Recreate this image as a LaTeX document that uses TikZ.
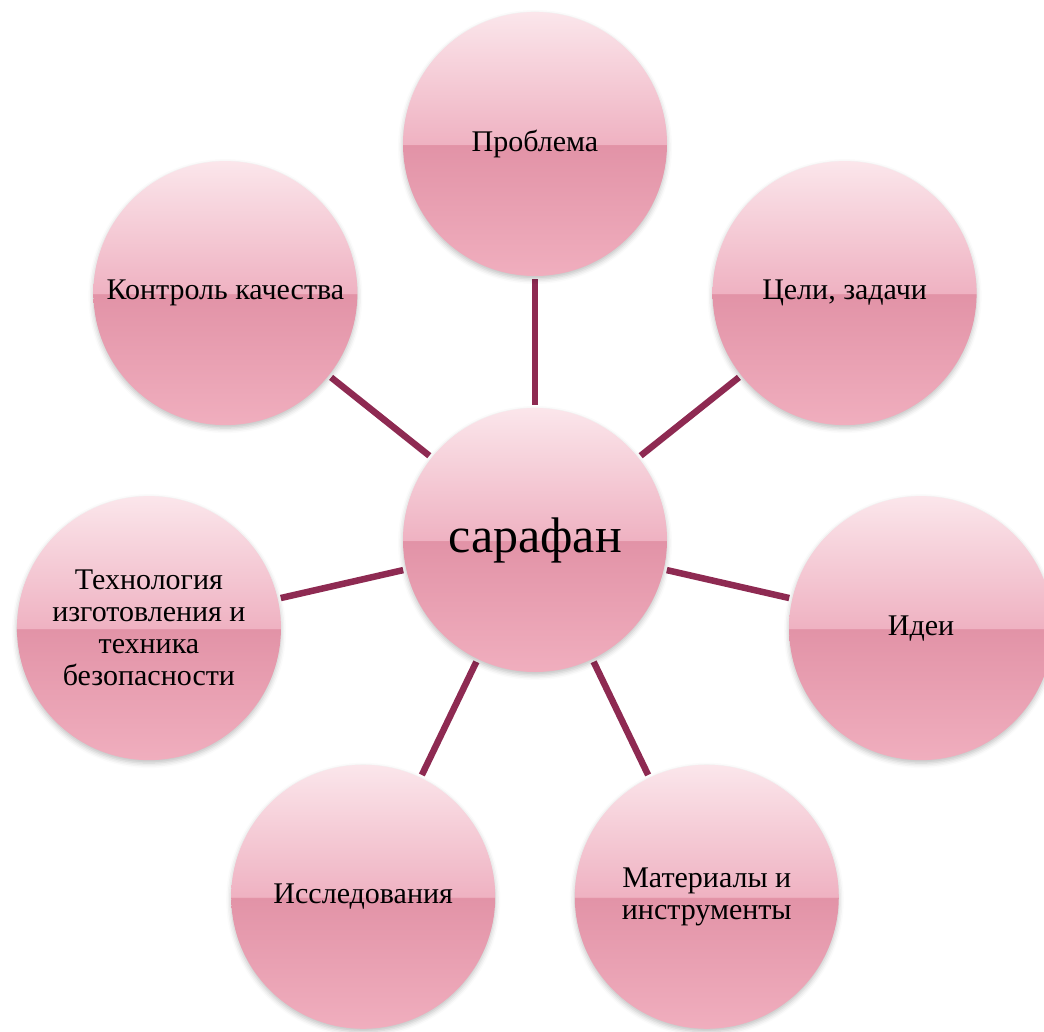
\documentclass[tikz,border=0pt]{standalone}
\usepackage{fontspec}
\setmainfont{Liberation Serif}
\usetikzlibrary{shadows.blur,backgrounds}

\definecolor{petaltop}{HTML}{FBE6EB}
\definecolor{petalup}{HTML}{EFB2C2}
\definecolor{petalmid}{HTML}{E293A7}
\definecolor{petalbot}{HTML}{F0AEBE}
\definecolor{linkred}{HTML}{8E2A52}
\pgfdeclareverticalshading{petal}{100bp}{color(0bp)=(petalbot); color(25bp)=(petalbot); color(49.8bp)=(petalmid); color(50bp)=(petalup); color(75bp)=(petaltop); color(100bp)=(petaltop)}

\begin{document}
\begin{tikzpicture}[x=1pt, y=1pt,
    bubble/.style={circle, minimum size=264pt, inner sep=0pt, shading=petal, align=center,
        font=\fontsize{30}{32}\selectfont,
        blur shadow={shadow xshift=0pt, shadow yshift=-3pt, shadow blur radius=5pt, shadow opacity=25}},
    link/.style={line width=6.5pt, draw=linkred, shorten <=3pt, shorten >=3pt}]
    \useasboundingbox (-535,-491) rectangle (509,540);

    % Centre
    \node[bubble, font=\fontsize{50}{56}\selectfont] (sarafan) at (0,0) {сарафан};

    % Ring of topics
    \node[bubble] (problem) at (90:396) {Проблема};
    \node[bubble] (goals) at (38.57:396) {Цели, задачи};
    \node[bubble] (ideas) at (-12.86:396) {Идеи};
    \node[bubble] (materials) at (-64.29:396) {Материалы и\\инструменты};
    \node[bubble] (research) at (-115.71:396) {Исследования};
    \node[bubble] (technology) at (-167.14:396) {Технология\\изготовления и\\техника\\безопасности};
    \node[bubble] (quality) at (141.43:396) {Контроль качества};

    % Spokes
    \begin{scope}[on background layer]
        \draw[link] (sarafan) -- (problem);
        \draw[link] (sarafan) -- (goals);
        \draw[link] (sarafan) -- (ideas);
        \draw[link] (sarafan) -- (materials);
        \draw[link] (sarafan) -- (research);
        \draw[link] (sarafan) -- (technology);
        \draw[link] (sarafan) -- (quality);
    \end{scope}
\end{tikzpicture}
\end{document}
